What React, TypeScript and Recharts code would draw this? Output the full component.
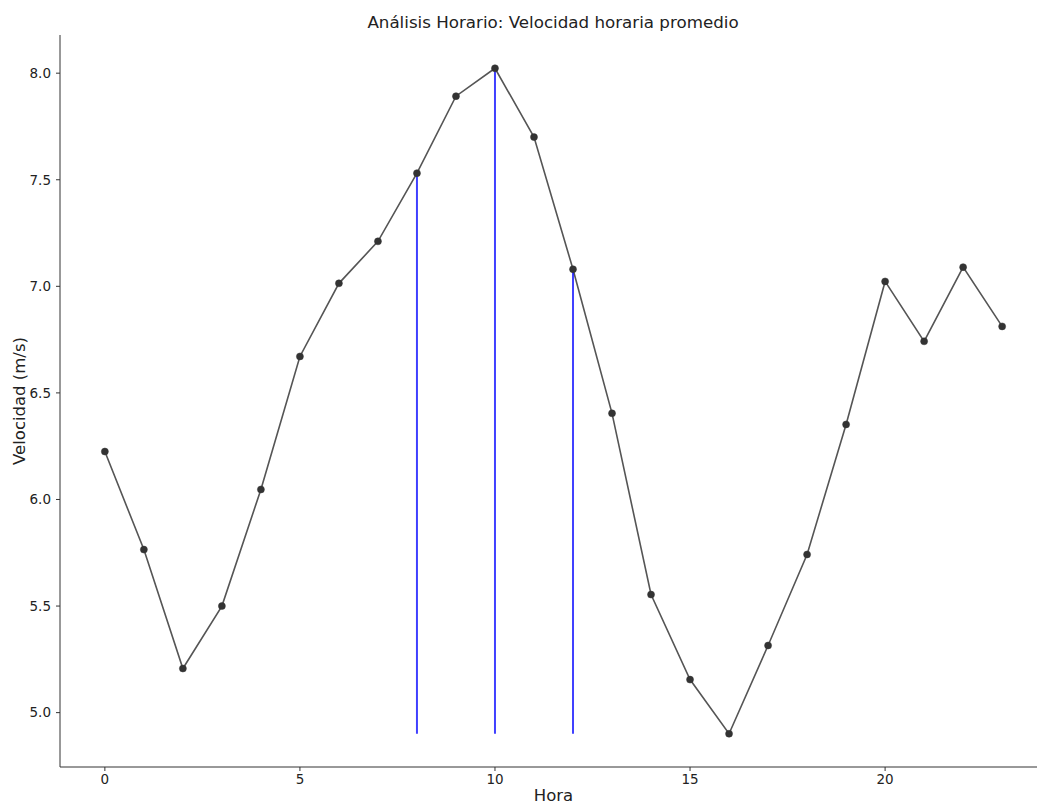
import React from 'react';
import {
  ComposedChart,
  Line,
  XAxis,
  YAxis,
  ReferenceLine,
  Label,
} from 'recharts';

// mean speed per hour
const hours = [0, 1, 2, 3, 4, 5, 6, 7, 8, 9, 10, 11, 12, 13, 14, 15, 16, 17, 18, 19, 20, 21, 22, 23];
const speeds = [
  6.225, 5.765, 5.207, 5.5, 6.047, 6.671, 7.014, 7.211, 7.531, 7.892, 8.023, 7.7,
  7.08, 6.404, 5.554, 5.155, 4.901, 5.315, 5.742, 6.352, 7.023, 6.742, 7.09, 6.812,
];
const highlightHours = [8, 10, 12];
const xTicks = [0, 5, 10, 15, 20];
const yTicks = [5.0, 5.5, 6.0, 6.5, 7.0, 7.5, 8.0];

const FONT = '"DejaVu Sans", sans-serif';

const data = hours.map((h, i) => ({ hour: h, speed: speeds[i] }));

const minSpeed = Math.min(...speeds);
const maxSpeed = Math.max(...speeds);
const pad = (maxSpeed - minSpeed) * 0.05;
const yDomain = [minSpeed - pad, maxSpeed + pad];
const xPad = (hours[hours.length - 1] - hours[0]) * 0.05;
const xDomain = [hours[0] - xPad, hours[hours.length - 1] + xPad];

const tickStyle = { fill: '#222', fontSize: 13.5, fontFamily: FONT };

export default function App() {
  return (
    <div style={{ position: 'absolute', left: 0, top: 0, width: 1037, height: 803, overflow: 'hidden', background: '#fff' }}>
      <ComposedChart
        width={1060}
        height={803}
        data={data}
        margin={{ top: 35, right: 13, bottom: 0, left: 0 }}
      >
        <XAxis
          xAxisId="top"
          orientation="top"
          dataKey="hour"
          type="number"
          domain={xDomain}
          allowDataOverflow
          tick={false}
          tickLine={false}
          height={0}
          axisLine={{ stroke: '#333' }}
        />
        <XAxis
          dataKey="hour"
          type="number"
          domain={xDomain}
          allowDataOverflow
          ticks={xTicks}
          tick={tickStyle}
          tickSize={4}
          tickMargin={3}
          height={36}
          axisLine={{ stroke: '#333' }}
          tickLine={{ stroke: '#333' }}
        >
          <Label
            value="Hora"
            position="insideBottom"
            offset={2}
            style={{ fill: '#222', fontSize: 16.5, fontFamily: FONT }}
          />
        </XAxis>
        <YAxis
          type="number"
          domain={yDomain}
          allowDataOverflow
          ticks={yTicks}
          tickFormatter={(v: number) => v.toFixed(1)}
          tick={tickStyle}
          tickSize={4}
          tickMargin={5}
          width={60}
          axisLine={{ stroke: '#333' }}
          tickLine={{ stroke: '#333' }}
        >
          <Label
            content={(props: any) => {
              const vb = props.viewBox || { x: 0, y: 35, width: 60, height: 732 };
              const cx = vb.x + 19;
              const cy = vb.y + vb.height / 2;
              return (
                <text
                  x={cx}
                  y={cy}
                  transform={`rotate(-90 ${cx} ${cy})`}
                  textAnchor="middle"
                  dominantBaseline="central"
                  style={{ fill: '#222', fontSize: 16.5, fontFamily: FONT }}
                >
                  Velocidad (m/s)
                </text>
              );
            }}
          />
        </YAxis>
        <Line
          type="linear"
          dataKey="speed"
          stroke="#555"
          strokeWidth={1.6}
          dot={{ r: 3.5, fill: '#333', stroke: '#333', strokeWidth: 0.5 }}
          activeDot={false}
          isAnimationActive={false}
        />
        {highlightHours.map((h) => (
          <ReferenceLine
            key={h}
            segment={[
              { x: h, y: minSpeed },
              { x: h, y: speeds[hours.indexOf(h)] },
            ]}
            stroke="#0000ff"
            strokeOpacity={0.75}
            strokeWidth={2}
          />
        ))}
      </ComposedChart>
      <svg
        width={1037}
        height={40}
        style={{ position: 'absolute', left: 0, top: 0, pointerEvents: 'none' }}
      >
        <text
          x={553}
          y={28}
          textAnchor="middle"
          style={{ fill: '#222', fontSize: 16.7, fontFamily: FONT }}
        >
          Análisis Horario: Velocidad horaria promedio
        </text>
      </svg>
    </div>
  );
}
